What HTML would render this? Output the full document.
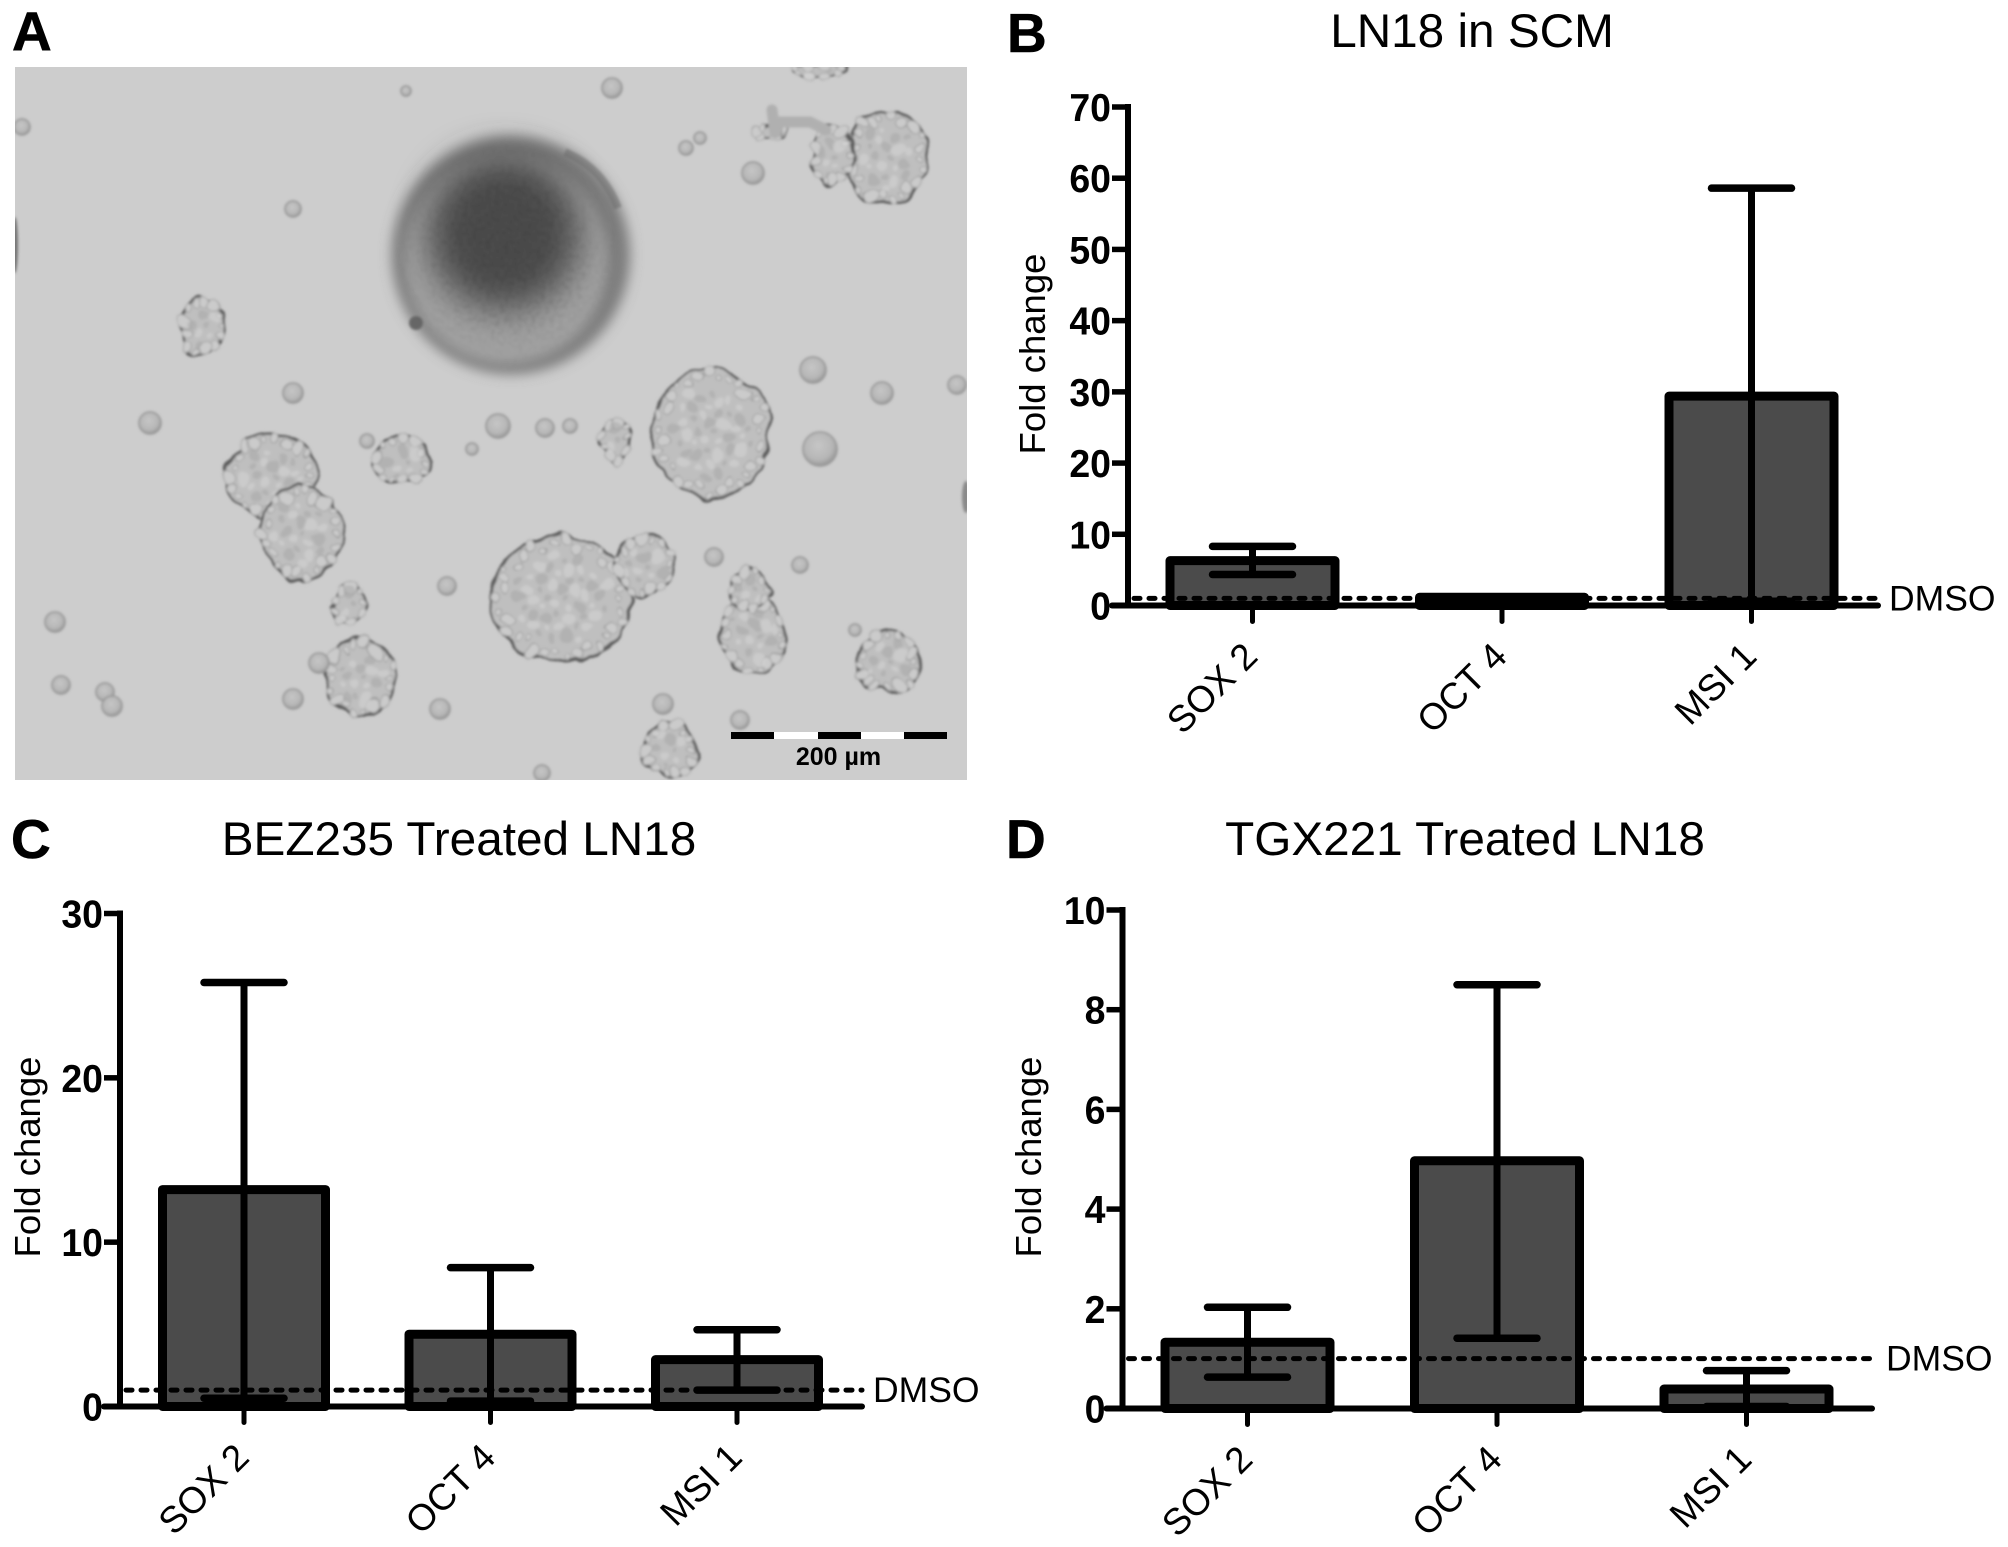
<!DOCTYPE html>
<html lang="en">
<head>
<meta charset="utf-8">
<title>LN18 sphere culture and stem cell marker fold change</title>
<style>
html,body{margin:0;padding:0;background:#fff;}
svg{display:block;}
text{font-family:"Liberation Sans",sans-serif;fill:#000;}
</style>
</head>
<body>
<svg id="figure" xmlns="http://www.w3.org/2000/svg" width="2008" height="1547" viewBox="0 0 2008 1547">
  <defs>
    <clipPath id="photoClip"><rect x="15" y="67" width="952" height="713"/></clipPath>
    <filter id="soft" x="-5%" y="-5%" width="110%" height="110%"><feGaussianBlur stdDeviation="1.3"/></filter>
    <filter id="blur4" x="-20%" y="-20%" width="140%" height="140%"><feGaussianBlur stdDeviation="6"/></filter>
    <filter id="blur8" x="-20%" y="-20%" width="140%" height="140%"><feGaussianBlur stdDeviation="9"/></filter>
    <filter id="blur12" x="-40%" y="-40%" width="180%" height="180%"><feGaussianBlur stdDeviation="18"/></filter>
    <filter id="lump" x="-15%" y="-15%" width="130%" height="130%">
      <feTurbulence type="fractalNoise" baseFrequency="0.04" numOctaves="2" seed="7" result="n"/>
      <feDisplacementMap in="SourceGraphic" in2="n" scale="14" xChannelSelector="R" yChannelSelector="G"/>
    </filter>
    <filter id="grain" x="0" y="0" width="100%" height="100%">
      <feTurbulence type="fractalNoise" baseFrequency="0.22" numOctaves="2" seed="3"/>
      <feColorMatrix type="matrix" values="0 0 0 0 0  0 0 0 0 0  0 0 0 0 0  1.4 0 0 0 -0.55"/>
      <feComposite in2="SourceAlpha" operator="in"/>
    </filter>
    <radialGradient id="cellFill" cx="45%" cy="40%" r="60%">
      <stop offset="0%" stop-color="#c6c6c6"/>
      <stop offset="70%" stop-color="#b6b6b6"/>
      <stop offset="100%" stop-color="#969696"/>
    </radialGradient>
    <radialGradient id="fadeOut" cx="50%" cy="50%" r="50%">
      <stop offset="0%" stop-color="#fff"/>
      <stop offset="60%" stop-color="#fff"/>
      <stop offset="100%" stop-color="#000"/>
    </radialGradient>
    <mask id="sphereMask" maskUnits="userSpaceOnUse" x="380" y="120" width="260" height="270">
      <circle cx="507" cy="255" r="112" fill="url(#fadeOut)"/>
    </mask>
  </defs>

  <g id="panelA">
    <text x="12" y="50" font-size="55" font-weight="700" stroke="#000" stroke-width="0.6">A</text>
    <g clip-path="url(#photoClip)">
      <rect x="15" y="67" width="952" height="713" fill="#cdcdcd"/>
      <g id="cells" filter="url(#soft)"></g>
      <g id="scaleBar">
        <rect x="731" y="732" width="216" height="7" fill="#fff"/>
        <rect x="731" y="732" width="43" height="7" fill="#000"/>
        <rect x="818" y="732" width="43" height="7" fill="#000"/>
        <rect x="904" y="732" width="43" height="7" fill="#000"/>
        <text x="838.5" y="765" font-size="25" font-weight="700" text-anchor="middle">200 µm</text>
      </g>
    </g>
  </g>
  <g id="charts"></g>
</svg>

<script>
// ---------- Chart data ----------
const categories = ["SOX 2", "OCT 4", "MSI 1"];

const panelBTitle = "LN18 in SCM";
const panelBTicks = [0, 10, 20, 30, 40, 50, 60, 70];
const panelBMeans = [6.3, 1.15, 29.4];
const panelBUpper = [8.3, 1.15, 58.6];
const panelBLower = [4.35, 1.15, 0.6];

const panelCTitle = "BEZ235 Treated LN18";
const panelCTicks = [0, 10, 20, 30];
const panelCMeans = [13.2, 4.4, 2.85];
const panelCUpper = [25.8, 8.45, 4.67];
const panelCLower = [0.5, 0.33, 1.0];

const panelDTitle = "TGX221 Treated LN18";
const panelDTicks = [0, 2, 4, 6, 8, 10];
const panelDMeans = [1.33, 4.97, 0.39];
const panelDUpper = [2.03, 8.5, 0.76];
const panelDLower = [0.63, 1.41, 0.04];

const dmsoLevel = 1;
const dmsoLabel = "DMSO";
const yAxisTitle = "Fold change";

// ---------- Drawing ----------
const SVGNS = "http://www.w3.org/2000/svg";
function make(parent, tag, attrs, text) {
  const el = document.createElementNS(SVGNS, tag);
  for (const k in attrs) el.setAttribute(k, attrs[k]);
  if (text !== undefined) el.textContent = text;
  parent.appendChild(el);
  return el;
}

function drawChart(key, letter, title, ticks, means, upper, lower, L) {
  const root = document.getElementById("charts");
  const g = make(root, "g", {});
  
  

  const yMax = ticks[ticks.length - 1];
  const yScale = v => L.y0 - v * (L.y0 - L.yTop) / yMax;
  const xScale = i => L.first + i * L.step;
  const BAR_W = L.barW, CAP = 40;

  const letterEl = make(g, "text", {x: L.letterX, y: L.letterY, "font-size": 55, "font-weight": 700, stroke: "#000", "stroke-width": 0.6}, letter);
  
  

  const titleEl = make(g, "text", {x: L.titleX, y: L.titleY, "font-size": 47.7, "text-anchor": "middle"}, title);
  
  

  const yTitle = make(g, "text", {x: 0, y: 0, "font-size": 36.5, "text-anchor": "middle",
    transform: "translate(" + L.yTitleX + " " + L.yTitleY + ") rotate(-90)"}, yAxisTitle);
  
  

  // bars
  means.forEach((m, i) => {
    const top = yScale(m);
    const bar = make(g, "rect", {x: xScale(i) - BAR_W / 2, y: top, width: BAR_W, height: L.y0 - top,
      fill: "#4b4b4b", stroke: "#000", "stroke-width": 9, "stroke-linejoin": "round"});
    
    
  });

  // axes
  const yAxis = make(g, "line", {x1: L.axisX, x2: L.axisX, y1: yScale(yMax), y2: L.y0, stroke: "#000", "stroke-width": 6, "stroke-linecap": "square"});
  
  
  const xAxis = make(g, "line", {x1: L.axisX - 16, x2: L.axisEnd, y1: L.y0, y2: L.y0, stroke: "#000", "stroke-width": 6, "stroke-linecap": "round"});
  
  

  ticks.forEach(t => {
    const y = yScale(t);
    const tick = make(g, "line", {x1: L.axisX - 16, x2: L.axisX, y1: y, y2: y, stroke: "#000", "stroke-width": 5.5});
    
    
    const label = make(g, "text", {x: 0, y: 0, "font-size": 39, "font-weight": 700, "text-anchor": "end",
      transform: "translate(" + (L.axisX - 17) + " " + (y + 14) + ") scale(0.96 1)"}, String(t));
    
    
  });

  categories.forEach((c, i) => {
    const x = xScale(i);
    const tick = make(g, "line", {x1: x, x2: x, y1: L.y0, y2: L.y0 + 16, stroke: "#000", "stroke-width": 5, "stroke-linecap": "round"});
    
    
    const label = make(g, "text", {x: 0, y: 0, "font-size": 37, "text-anchor": "end",
      transform: "translate(" + (x + 7) + " " + (L.y0 + 53) + ") rotate(-45)"}, c);
    
    
  });

  // DMSO reference line
  const dy = yScale(dmsoLevel);
  const dash = make(g, "line", {x1: L.axisX + 6, x2: L.dmsoEnd, y1: dy, y2: dy, stroke: "#000", "stroke-width": 5,
    "stroke-dasharray": "6 9", "stroke-linecap": "round"});
  
  
  const dmsoText = make(g, "text", {x: L.dmsoEnd + 11, y: dy + 12, "font-size": 35.5}, dmsoLabel);
  
  

  // error bars
  means.forEach((m, i) => {
    const x = xScale(i), yu = yScale(upper[i]), yl = yScale(lower[i]);
    const stem = make(g, "line", {x1: x, x2: x, y1: yu, y2: yl, stroke: "#000", "stroke-width": 7});
    
    
    const capU = make(g, "line", {x1: x - CAP, x2: x + CAP, y1: yu, y2: yu, stroke: "#000", "stroke-width": 7.5, "stroke-linecap": "round"});
    
    
    const capL = make(g, "line", {x1: x - CAP, x2: x + CAP, y1: yl, y2: yl, stroke: "#000", "stroke-width": 7.5, "stroke-linecap": "round"});
    
    
  });
}

drawChart("b", "B", panelBTitle, panelBTicks, panelBMeans, panelBUpper, panelBLower, {
  axisX: 1128, yTop: 107, y0: 605.5, first: 1252.5, step: 249.5, barW: 165, axisEnd: 1878, dmsoEnd: 1878,
  letterX: 1007, letterY: 52, titleX: 1472, titleY: 47, yTitleX: 1045, yTitleY: 354
});
drawChart("c", "C", panelCTitle, panelCTicks, panelCMeans, panelCUpper, panelCLower, {
  axisX: 120, yTop: 913.5, y0: 1406.5, first: 244, step: 246.5, barW: 163, axisEnd: 862, dmsoEnd: 862,
  letterX: 11, letterY: 858, titleX: 459, titleY: 855, yTitleX: 40, yTitleY: 1157
});
drawChart("d", "D", panelDTitle, panelDTicks, panelDMeans, panelDUpper, panelDLower, {
  axisX: 1122.5, yTop: 910, y0: 1408.5, first: 1247.5, step: 249.5, barW: 165, axisEnd: 1872, dmsoEnd: 1875,
  letterX: 1006, letterY: 858, titleX: 1465, titleY: 855, yTitleX: 1041, yTitleY: 1157
});

// ---------- Micrograph illustration ----------
(function () {
  const host = document.getElementById("cells");

  // Large dark sphere
  const sphere = make(host, "g", {});
  
  
  make(sphere, "circle", {cx: 511, cy: 255, r: 119, fill: "#7c7c7c", filter: "url(#blur4)"});
  make(sphere, "ellipse", {cx: 506, cy: 260, rx: 102, ry: 104, fill: "#a2a2a2", filter: "url(#blur4)"});
  make(sphere, "ellipse", {cx: 504, cy: 232, rx: 76, ry: 78, fill: "#4c4c4c", filter: "url(#blur12)"});
  make(sphere, "circle", {cx: 416, cy: 323, r: 7, fill: "#666666"});
  const sphereGrain = make(sphere, "g", {mask: "url(#sphereMask)"});
  make(sphereGrain, "circle", {cx: 507, cy: 255, r: 112, fill: "#000", filter: "url(#grain)", opacity: 0.16});
  make(sphere, "path", {d: "M565 152 Q603 168 618 208", fill: "none", stroke: "#666666", "stroke-width": 8, opacity: 0.5});

  // Lumpy cell clusters: centre x, centre y, radius x, radius y
  const clusters = [
    [887,158,41,47],[832,155,20,32],[271,477,45,43],[301,533,41,46],[711,433,59,66],
    [561,599,70,64],[644,566,29,30],[753,634,32,38],[750,590,21,20],[888,662,33,29],
    [360,678,35,38],[670,750,27,28],[402,461,28,24],[203,326,21,30],[348,604,17,18],
    [616,440,14,20],[820,70,26,8],[770,130,16,6]
  ];
  clusters.forEach(c => {
    const blob = make(host, "g", {filter: "url(#lump)"});
    
    
    make(blob, "ellipse", {cx: c[0], cy: c[1], rx: c[2] + 2, ry: c[3] + 2, fill: "#dddddd", opacity: 0.6});
    make(blob, "ellipse", {cx: c[0], cy: c[1], rx: c[2], ry: c[3], fill: "#bfbfbf", stroke: "#5c5c5c", "stroke-width": 2.8});
    const n = Math.max(6, Math.round((c[2] + c[3]) / 4));
    for (let i = 0; i < n; i++) {
      const a = i / n * 6.283;
      const k = 0.82 + (i % 3) * 0.06;
      make(blob, "circle", {cx: c[0] + Math.cos(a) * c[2] * k, cy: c[1] + Math.sin(a) * c[3] * k,
        r: 3 + (i % 4), fill: "#cbcbcb", stroke: "#a0a0a0", "stroke-width": 1});
    }
    // Interior mottling laid out on a spiral
    const spots = Math.round((c[2] * c[3]) / 90);
    for (let i = 0; i < spots; i++) {
      const a = i * 2.39996;
      const d = Math.sqrt((i + 0.5) / spots) * 0.68;
      make(blob, "circle", {cx: c[0] + Math.cos(a) * c[2] * d, cy: c[1] + Math.sin(a) * c[3] * d,
        r: 3 + (i % 3) * 1.5, fill: i % 2 ? "#d8d8d8" : "#a6a6a6", opacity: 0.5});
    }
  });

  // Branch on the upper-right cluster
  const branch = make(host, "path", {d: "M772 110 L775 133 M775 122 L810 122 L826 130", fill: "none", stroke: "#b0b0b0", "stroke-width": 11, "stroke-linecap": "round"});
  
  

  // Single small cells: x, y, radius
  const singles = [
    [820,449,17],[293,393,10],[150,423,11],[293,209,8],[612,88,10],[55,622,10],[61,685,9],
    [105,692,9],[112,706,10],[293,699,10],[714,557,9],[800,565,8],[447,586,9],[813,370,13],
    [882,393,11],[957,385,9],[498,426,12],[545,428,9],[570,426,7],[472,449,6],[753,173,11],
    [686,148,7],[700,138,6],[406,91,5],[22,127,8],[855,630,6],[663,704,10],[740,720,9],
    [440,709,10],[319,663,10],[367,441,7],[542,773,8]
  ];
  singles.forEach(s => {
    const cell = make(host, "circle", {cx: s[0], cy: s[1], r: s[2], fill: "url(#cellFill)", stroke: "#959595", "stroke-width": 1.5});
    
    
  });

  const edge1 = make(host, "ellipse", {cx: 15, cy: 245, rx: 3, ry: 28, fill: "#777777"});
  
  
  const edge2 = make(host, "ellipse", {cx: 966, cy: 497, rx: 4, ry: 16, fill: "#8a8a8a"});
  
  
})();
</script>
</body>
</html>
